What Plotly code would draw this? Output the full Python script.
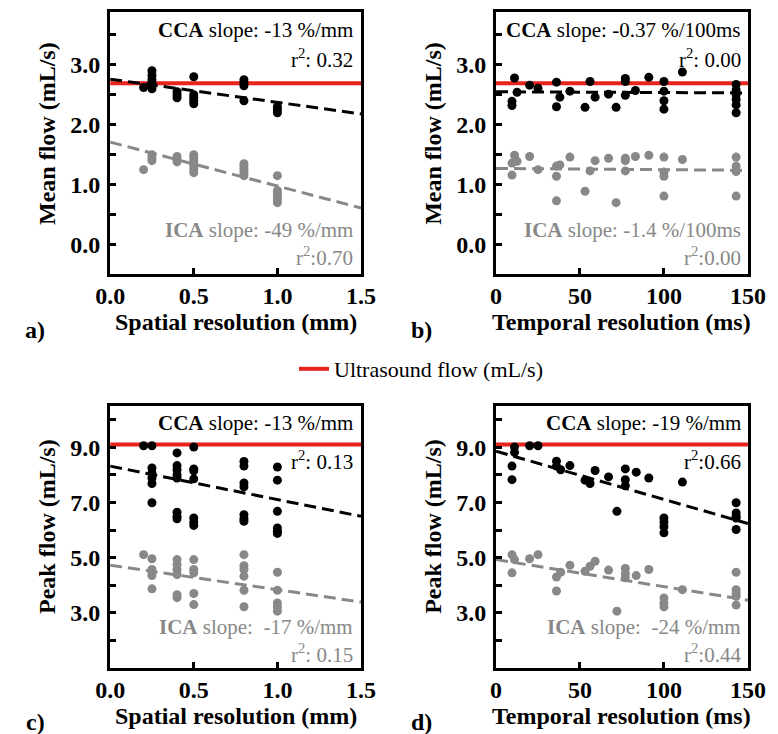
import plotly.graph_objects as go

W, H = 778, 734
SERIF = "Liberation Serif"
BLACK = "#000000"
GRAY = "#888888"
RED = "#e8231b"

# ---------------- data ----------------
# Panel a: mean flow vs spatial resolution
a_x = [0.2, 0.25, 0.4, 0.5, 0.8, 1.0]
a_cca = [[2.62], [2.9, 2.82, 2.75, 2.7, 2.65, 2.6], [2.55, 2.5, 2.45],
         [2.8, 2.5, 2.45, 2.4, 2.35], [2.75, 2.7, 2.65, 2.4], [2.3, 2.25, 2.2]]
a_ica = [[1.25], [1.5, 1.45, 1.4], [1.47, 1.42, 1.38],
         [1.5, 1.45, 1.4, 1.35, 1.3, 1.25, 1.2], [1.35, 1.3, 1.25, 1.2, 1.15],
         [1.15, 0.9, 0.85, 0.8, 0.75, 0.7]]
a_fit_cca = [2.76, -0.387]   # intercept, slope (mL/s per mm)
a_fit_ica = [1.71, -0.733]

# Panel b: mean flow vs temporal resolution
b_cca_x = [9.5, 9.5, 11, 12.5, 20, 25, 36, 36, 38, 44, 53, 56, 59, 67, 71.5,
           77, 77, 77, 83, 91, 100, 100, 100, 100, 111,
           143, 143, 143, 143, 143, 143]
b_cca_y = [2.39, 2.32, 2.78, 2.54, 2.66, 2.61, 2.71, 2.30, 2.46, 2.56, 2.29, 2.72,
           2.46, 2.51, 2.29, 2.77, 2.72, 2.49, 2.57, 2.79, 2.72, 2.56, 2.40, 2.26,
           2.88, 2.67, 2.58, 2.50, 2.42, 2.33, 2.20]
b_ica_x = [9.5, 9.5, 11, 12.5, 20, 25, 36, 36, 36, 38, 44, 53, 56, 59, 67, 71.5,
           77, 77, 77, 83, 91, 100, 100, 100, 100, 111, 143, 143, 143, 143]
b_ica_y = [1.36, 1.16, 1.49, 1.39, 1.47, 1.25, 1.31, 1.14, 0.73, 1.33, 1.46, 0.89,
           1.23, 1.40, 1.44, 0.70, 1.44, 1.40, 1.23, 1.47, 1.49, 1.46, 1.21, 1.14,
           0.81, 1.42, 1.46, 1.31, 1.22, 0.81]
b_fit_cca = [2.55, -0.00013]  # per ms
b_fit_ica = [1.27, -0.0002]

# Panel c: peak flow vs spatial resolution
c_x = [0.2, 0.25, 0.4, 0.5, 0.8, 1.0]
c_cca = [[9.06], [9.06, 8.25, 8.07, 7.89, 7.69, 6.99],
         [8.80, 8.34, 8.19, 8.01, 7.89, 6.65, 6.50, 6.41],
         [9.01, 8.22, 8.15, 7.86, 6.44, 6.29, 6.17],
         [8.49, 8.32, 7.71, 7.57, 6.56, 6.41, 6.32],
         [8.29, 7.81, 6.68, 6.08, 5.96, 5.88]]
c_ica = [[5.11], [4.96, 4.57, 4.45, 4.35, 3.87],
         [4.93, 4.75, 4.57, 4.39, 3.66, 3.55],
         [4.93, 4.57, 4.45, 3.70, 3.30],
         [5.11, 4.71, 4.57, 4.33, 3.82, 3.22],
         [4.47, 3.82, 3.36, 3.22, 3.06]]
c_fit_cca = [8.32, -1.213]
c_fit_ica = [4.73, -0.893]

# Panel d: peak flow vs temporal resolution
d_cca_x = [9.5, 9.5, 11, 11, 20, 25, 36, 36, 38.5, 44, 53, 56, 59, 67, 72,
           77, 77, 77, 83.5, 91, 100, 100, 100, 100, 111, 143, 143, 143, 143, 143]
d_cca_y = [8.32, 7.83, 9.01, 8.82, 9.06, 9.06, 8.50, 8.32, 8.19, 8.34, 7.81, 7.69,
           8.16, 7.93, 6.68, 8.22, 7.83, 7.61, 8.10, 7.89, 6.44, 6.29, 6.12, 5.90,
           7.74, 6.99, 6.62, 6.50, 6.44, 6.02]
d_ica_x = [9.5, 9.5, 11, 20, 25, 36, 36, 38.5, 44, 53, 56, 59, 67, 72,
           77, 77, 77, 83.5, 91, 100, 100, 100, 111, 143, 143, 143, 143, 143]
d_ica_y = [5.11, 4.45, 4.93, 4.96, 5.11, 4.30, 3.79, 4.47, 4.73, 4.51, 4.69, 4.87,
           4.55, 3.06, 4.61, 4.42, 4.27, 4.35, 4.57, 3.54, 3.36, 3.22, 3.84,
           4.47, 3.84, 3.70, 3.60, 3.28]
d_fit_cca = [8.86, -0.01747]
d_fit_ica = [4.93, -0.0098]

us_mean = 2.69   # ultrasound mean flow (mL/s)
us_peak = 9.10   # ultrasound peak flow (mL/s)

spatial_range = [0, 1.5]
temporal_range = [0, 150]
mean_range = [-0.49, 3.88]
peak_range = [1.0, 10.5]

spatial_ticks = [0, 0.5, 1.0, 1.5]
spatial_labels = ["0.0", "0.5", "1.0", "1.5"]
temporal_ticks = [0, 50, 100, 150]
temporal_labels = ["0", "50", "100", "150"]
mean_ticks = [0, 1, 2, 3]
mean_labels = ["0.0", "1.0", "2.0", "3.0"]
mean_minor = [0.5, 1.5, 2.5, 3.5]
peak_ticks = [3, 5, 7, 9]
peak_labels = ["3.0", "5.0", "7.0", "9.0"]
peak_minor = [2, 4, 6, 8, 10]


def expand(xs, groups):
    ox, oy = [], []
    for x, g in zip(xs, groups):
        for v in g:
            ox.append(x)
            oy.append(v)
    return ox, oy


fig = go.Figure()

panels = [
    ("x", "y", expand(a_x, a_cca), expand(a_x, a_ica), a_fit_cca, a_fit_ica, spatial_range, us_mean),
    ("x2", "y2", (b_cca_x, b_cca_y), (b_ica_x, b_ica_y), b_fit_cca, b_fit_ica, temporal_range, us_mean),
    ("x3", "y3", expand(c_x, c_cca), expand(c_x, c_ica), c_fit_cca, c_fit_ica, spatial_range, us_peak),
    ("x4", "y4", (d_cca_x, d_cca_y), (d_ica_x, d_ica_y), d_fit_cca, d_fit_ica, temporal_range, us_peak),
]

for i, (xa, ya, cca, ica, fc, fi, xr, us) in enumerate(panels):
    fig.add_trace(go.Scatter(x=xr, y=[us, us], mode="lines", xaxis=xa, yaxis=ya,
                             line=dict(color=RED, width=4),
                             name="Ultrasound flow (mL/s)", showlegend=(i == 0)))
    fig.add_trace(go.Scatter(x=ica[0], y=ica[1], mode="markers", xaxis=xa, yaxis=ya,
                             marker=dict(color=GRAY, size=9), showlegend=False))
    fig.add_trace(go.Scatter(x=cca[0], y=cca[1], mode="markers", xaxis=xa, yaxis=ya,
                             marker=dict(color=BLACK, size=9), showlegend=False))
    fig.add_trace(go.Scatter(x=xr, y=[fi[0] + fi[1] * v for v in xr], mode="lines",
                             xaxis=xa, yaxis=ya, showlegend=False,
                             line=dict(color=GRAY, width=3, dash="12px,6px")))
    fig.add_trace(go.Scatter(x=xr, y=[fc[0] + fc[1] * v for v in xr], mode="lines",
                             xaxis=xa, yaxis=ya, showlegend=False,
                             line=dict(color=BLACK, width=3, dash="12px,6px")))

tickfont = dict(family=SERIF, size=24, color=BLACK, weight="bold")


def axis(domain, rng, tv, tt, minor, anchor, standoff):
    d = dict(domain=domain, range=rng, tickmode="array", tickvals=tv, ticktext=tt,
             ticks="inside", ticklen=6, tickwidth=3, tickcolor=BLACK,
             showline=True, linewidth=3, linecolor=BLACK, mirror=True,
             showgrid=False, zeroline=False, tickfont=tickfont, anchor=anchor,
             ticklabelstandoff=standoff)
    if minor:
        d["minor"] = dict(tickmode="array", tickvals=minor, ticks="inside", ticklen=6,
                          tickwidth=3, tickcolor=BLACK, showgrid=False)
    return d


xa_L = [91 / W, 353 / W]
xa_R = [494 / W, 757 / W]
ya_T = [1 - 266 / H, 1 - 4 / H]
ya_B = [1 - 660 / H, 1 - 398 / H]

fig.update_layout(
    xaxis=axis(xa_L, spatial_range, spatial_ticks, spatial_labels, None, "y", -2),
    yaxis=axis(ya_T, mean_range, mean_ticks, mean_labels, mean_minor, "x", 2),
    xaxis2=axis(xa_R, temporal_range, temporal_ticks, temporal_labels, None, "y2", -2),
    yaxis2=axis(ya_T, mean_range, mean_ticks, mean_labels, mean_minor, "x2", 2),
    xaxis3=axis(xa_L, spatial_range, spatial_ticks, spatial_labels, None, "y3", -2),
    yaxis3=axis(ya_B, peak_range, peak_ticks, peak_labels, peak_minor, "x3", 2),
    xaxis4=axis(xa_R, temporal_range, temporal_ticks, temporal_labels, None, "y4", -2),
    yaxis4=axis(ya_B, peak_range, peak_ticks, peak_labels, peak_minor, "x4", 2),
)

ann = []


def txt(x, y, text, size=21, color=BLACK, xanchor="right", angle=0, bold=False):
    ann.append(dict(x=x / W, y=1 - y / H, xref="paper", yref="paper", text=text,
                    showarrow=False, xanchor=xanchor, yanchor="middle", textangle=angle,
                    font=dict(family=SERIF, size=size, color=color,
                              weight="bold" if bold else "normal")))


stats = [
    (347, 0, "<b>CCA</b> slope: -13 %/mm", "r<sup>2</sup>: 0.32",
     "<b>ICA</b> slope: -49 %/mm", "r<sup>2</sup>:0.70"),
    (752, 0, "<b>CCA</b> slope: -0.37 %/100ms", "r<sup>2</sup>: 0.00",
     "<b>ICA</b> slope: -1.4 %/100ms", "r<sup>2</sup>:0.00"),
    (347, 394, "<b>CCA</b> slope: -13 %/mm", "r<sup>2</sup>: 0.13",
     "<b>ICA</b> slope:\u00a0 -17 %/mm", "r<sup>2</sup>: 0.15"),
    (752, 394, "<b>CCA</b> slope: -19 %/mm", "r<sup>2</sup>:0.66",
     "<b>ICA</b> slope:\u00a0 -24 %/mm", "r<sup>2</sup>:0.44"),
]
for xr_, dy, t1, t2, t3, t4 in stats:
    if dy == 0:
        ys = [22, 50, 222, 248]
    else:
        ys = [415, 453, 619, 645]
    txt(xr_, ys[0], t1)
    txt(xr_, ys[1], t2)
    txt(xr_, ys[2], t3, color=GRAY)
    txt(xr_, ys[3], t4, color=GRAY)

# axis titles
for x0, y0, yt in [(25, 125, "Mean flow (mL/s)"), (428, 125, "Mean flow (mL/s)"),
                   (25, 518, "Peak flow (mL/s)"), (428, 518, "Peak flow (mL/s)")]:
    txt(x0, y0, yt, size=24, xanchor="center", angle=-90, bold=True)
for x0, y0, xt in [(222, 314, "Spatial resolution (mm)"), (625, 314, "Temporal resolution (ms)"),
                   (222, 708, "Spatial resolution (mm)"), (625, 708, "Temporal resolution (ms)")]:
    txt(x0, y0, xt, size=24, xanchor="center", bold=True)
for x0, y0, pl in [(13, 322, "a)"), (416, 322, "b)"), (13, 714, "c)"), (416, 714, "d)")]:
    txt(x0, y0, pl, size=24, xanchor="center", bold=True)

fig.update_layout(
    annotations=ann,
    width=W, height=H,
    margin=dict(l=0, r=0, t=0, b=0),
    paper_bgcolor="white", plot_bgcolor="white",
    showlegend=True,
    legend=dict(orientation="h", x=283 / W, y=1 - 361 / H, xanchor="left", yanchor="middle",
                font=dict(family=SERIF, size=22, color=BLACK), bgcolor="rgba(0,0,0,0)"),
    font=dict(family=SERIF),
)

fig.write_html("out.html")
